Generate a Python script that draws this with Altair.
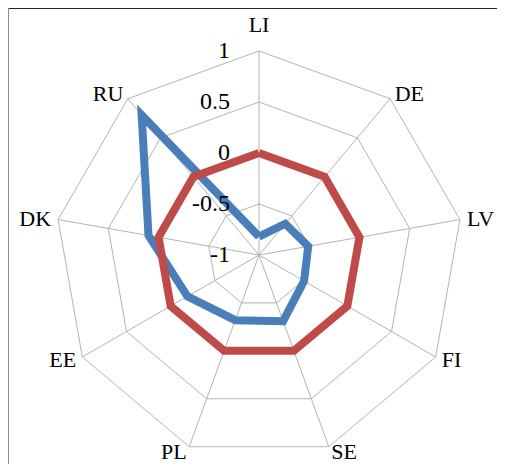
import math
import altair as alt
import pandas as pd

# ---- data ----
categories = ["LI", "DE", "LV", "FI", "SE", "PL", "EE", "DK", "RU"]
series_blue = [-0.82, -0.60, -0.51, -0.49, -0.31, -0.32, -0.19, 0.10, 0.79]
series_red = [0.0, 0.0, 0.0, 0.0, 0.0, 0.0, 0.0, 0.0, 0.0]
tick_values = [-1, -0.5, 0, 0.5, 1]
tick_labels = ["-1", "-0.5", "0", "0.5", "1"]
ring_levels = [-0.5, 0, 0.5, 1]

N = len(categories)
W, H = 489, 456
PX = 102.0          # pixels per value unit
CX, CY = 251, 247   # centre in chart pixels

xdom = [-CX / PX, (W - CX) / PX]
ydom = [-(H - CY) / PX, CY / PX]
xs = alt.Scale(domain=xdom, nice=False, zero=False)
ys = alt.Scale(domain=ydom, nice=False, zero=False)

ANG = f"datum.idx * 2 * PI / {N}"


def closed(values, name):
    rows = []
    for i in range(N + 1):
        k = i % N
        rows.append({"series": name, "idx": i, "cat": categories[k], "value": values[k]})
    return rows


series_df = pd.DataFrame(closed(series_blue, "blue") + closed(series_red, "red"))
ring_df = pd.DataFrame(
    [{"level": lv, "idx": i} for lv in ring_levels for i in range(N + 1)]
)
cat_df = pd.DataFrame({"cat": categories, "idx": list(range(N))})
tick_df = pd.DataFrame({"value": tick_values, "label": tick_labels})

GRID = "#b4b4b4"

rings = (
    alt.Chart(ring_df)
    .transform_calculate(
        u="datum.level + 1",
        x=f"datum.u * sin({ANG})",
        y=f"datum.u * cos({ANG})",
    )
    .mark_line(color=GRID, strokeWidth=1)
    .encode(
        x=alt.X("x:Q", scale=xs, axis=None),
        y=alt.Y("y:Q", scale=ys, axis=None),
        detail="level:N",
        order="idx:Q",
    )
)

spokes = (
    alt.Chart(cat_df)
    .transform_calculate(
        x0="0", y0="0",
        x=f"2 * sin({ANG})",
        y=f"2 * cos({ANG})",
    )
    .mark_rule(color=GRID, strokeWidth=1)
    .encode(
        x=alt.X("x0:Q", scale=xs, axis=None),
        y=alt.Y("y0:Q", scale=ys, axis=None),
        x2="x:Q",
        y2="y:Q",
    )
)


def series_line(name, color):
    return (
        alt.Chart(series_df)
        .transform_filter(f"datum.series == '{name}'")
        .transform_calculate(
            u="datum.value + 1",
            x=f"datum.u * sin({ANG})",
            y=f"datum.u * cos({ANG})",
        )
        .mark_line(color=color, strokeWidth=8, strokeJoin="miter", strokeMiterLimit=10)
        .encode(
            x=alt.X("x:Q", scale=xs, axis=None),
            y=alt.Y("y:Q", scale=ys, axis=None),
            order="idx:Q",
        )
    )


blue = series_line("blue", "#4a7ebb")
red = series_line("red", "#be4b48")

FONT = "Liberation Serif"


def cat_labels(cond, align, yoff):
    return (
        alt.Chart(cat_df)
        .transform_calculate(
            s=f"sin({ANG})",
            c=f"cos({ANG})",
        )
        .transform_filter(cond)
        .transform_calculate(
            x="2 * datum.s + 0.07 * datum.s",
            y=f"2 * datum.c + {yoff} * datum.c",
        )
        .mark_text(align=align, baseline="middle", font=FONT, fontSize=22, color="#000000")
        .encode(
            x=alt.X("x:Q", scale=xs, axis=None),
            y=alt.Y("y:Q", scale=ys, axis=None),
            text="cat:N",
        )
    )


lab_left = cat_labels("datum.s > 0.1", "left", 0.06)
lab_right = cat_labels("datum.s < -0.1", "right", 0.06)
lab_center = cat_labels("abs(datum.s) <= 0.1", "center", 0.255)

ticks = (
    alt.Chart(tick_df)
    .transform_calculate(tx="-0.284", y="datum.value + 1")
    .mark_text(align="right", baseline="middle", font=FONT, fontSize=24, color="#000000")
    .encode(
        x=alt.X("tx:Q", scale=xs, axis=None),
        y=alt.Y("y:Q", scale=ys, axis=None),
        text="label:N",
    )
)

border_top = alt.Chart(cat_df).mark_rule(color="#262626", strokeWidth=2).encode(
    x=alt.value(0), x2=alt.value(W), y=alt.value(0)
)
border_left = alt.Chart(cat_df).mark_rule(color="#8c8c8c", strokeWidth=2).encode(
    x=alt.value(0), y=alt.value(0), y2=alt.value(H)
)

chart = (
    alt.layer(
        rings, spokes, blue, red, lab_left, lab_right, lab_center, ticks,
        border_top, border_left,
    )
    .properties(width=W, height=H, autosize=alt.AutoSizeParams(type="none"), padding=0)
    .configure_view(stroke=None)
    .configure(background="#ffffff")
)

chart.save("out.html", embed_options={"renderer": "svg", "actions": False})
